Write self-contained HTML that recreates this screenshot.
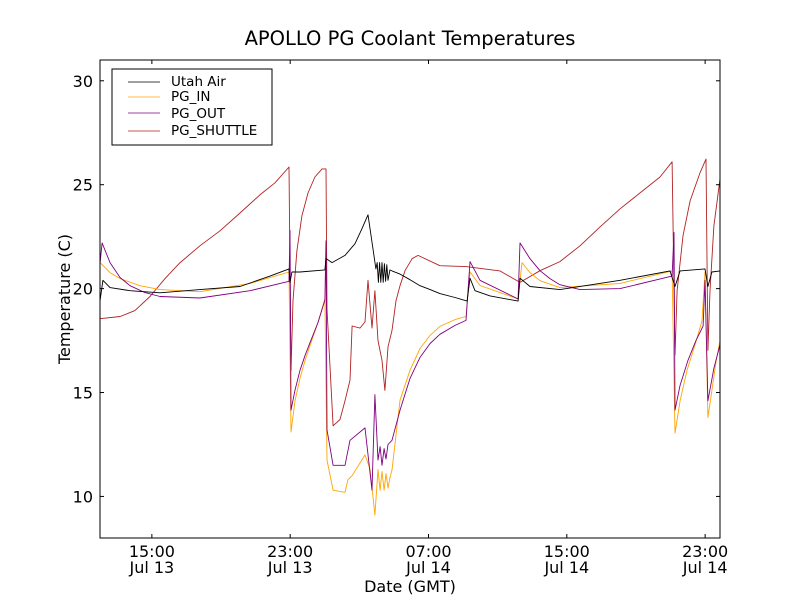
<!DOCTYPE html>
<html><head><meta charset="utf-8"><style>
body{margin:0;background:#fff;}
svg{display:block;font-family:"DejaVu Sans","Liberation Sans",sans-serif;}
</style></head><body>
<svg id="chart" width="800" height="600" viewBox="0 0 800 600">
<rect width="800" height="600" fill="#fff"/>
<text x="410" y="45" font-size="19.5" text-anchor="middle">APOLLO PG Coolant Temperatures</text>
<g id="series"></g>
<rect x="100" y="60" width="620" height="478" fill="none" stroke="#000" stroke-width="1"/>
<g id="axes"></g>
<text x="410" y="592" font-size="16" text-anchor="middle">Date (GMT)</text>
<text transform="translate(70,299) rotate(-90)" font-size="16" text-anchor="middle">Temperature (C)</text>
<g>
<rect x="112" y="69" width="160" height="76" fill="#fff" stroke="#000"/>
<line x1="128" y1="82" x2="160" y2="82" stroke="#000" stroke-width="0.8"/>
<text x="171" y="86" font-size="13.5">Utah Air</text>
<line x1="128" y1="97" x2="160" y2="97" stroke="#ffa500" stroke-width="0.8"/>
<text x="171" y="101" font-size="13.5">PG_IN</text>
<line x1="128" y1="113" x2="160" y2="113" stroke="#800080" stroke-width="0.8"/>
<text x="171" y="118" font-size="13.5">PG_OUT</text>
<line x1="128" y1="131" x2="160" y2="131" stroke="#b22222" stroke-width="0.8"/>
<text x="171" y="135" font-size="13.5">PG_SHUTTLE</text>
</g>
</svg>
<script>
// hours since Jul 13 12:00 GMT
const xTickHours=[3,11,19,27,35];
const xTickTimes=["15:00","23:00","07:00","15:00","23:00"];
const xTickDates=["Jul 13","Jul 13","Jul 14","Jul 14","Jul 14"];
const yTicks=[10,15,20,25,30];
const airT=[0,0.17,0.58,1.74,3.47,5.78,8.1,9.83,10.93,10.99,11.1,11.57,13.01,13.07,13.42,14.17,14.75,15.15,15.5,15.96,16.03,16.1,16.17,16.24,16.31,16.38,16.45,16.52,16.59,16.66,16.77,16.89,17.35,17.93,18.51,19.09,19.66,20.53,21.23,21.4,21.69,22.56,24.18,24.29,24.87,26.6,30.08,32.97,33.26,33.55,34.99,35.16,35.39,35.86];
const airV=[19.4,20.4,20.05,19.9,19.8,19.95,20.1,20.6,20.95,20.3,20.8,20.8,20.9,21.45,21.25,21.6,22.16,22.88,23.55,20.95,21.25,20.3,21.25,20.3,21.25,20.3,21.2,20.35,21.15,20.4,20.9,20.85,20.7,20.43,20.14,19.95,19.76,19.57,19.4,20.5,19.9,19.65,19.4,20.5,20.1,19.95,20.4,20.85,20.1,20.85,20.95,20.1,20.8,20.85];
const inT=[0,0.58,1.16,2.31,3.47,5.78,8.68,10.93,11.05,11.28,11.57,11.86,12.15,12.61,13.01,13.13,13.48,14.17,14.34,14.58,15.33,15.62,15.9,16.08,16.2,16.31,16.43,16.54,16.66,16.77,16.89,17.35,17.93,18.51,19.09,19.66,20.53,21.17,21.4,21.98,24.18,24.41,24.87,25.45,26.6,30.08,33.09,33.26,33.55,33.95,34.41,34.82,34.99,35.16,35.39,35.62,35.86];
const inV=[21.25,20.77,20.48,20.14,19.95,19.85,20.25,20.8,13.1,14.6,15.68,16.55,17.27,18.37,19.5,11.75,10.3,10.2,10.8,11.0,12.0,11.3,9.1,11.3,10.3,11.2,10.3,11.1,10.4,10.9,11.27,14.63,16.07,17.12,17.75,18.18,18.51,18.66,20.8,20.15,19.5,21.25,20.77,20.38,20.05,20.25,20.85,13.05,14.6,16.07,17.27,18.45,20.8,13.8,15.1,16.45,17.5];
const outT=[0,0.12,0.58,1.16,1.74,2.6,3.47,5.78,8.68,10.93,10.99,11.05,11.28,11.57,11.86,12.15,12.61,13.01,13.07,13.13,13.48,14.17,14.46,15.33,15.73,15.9,16.08,16.2,16.31,16.43,16.54,16.66,16.89,17.35,17.93,18.51,19.09,19.66,20.53,21.17,21.4,21.98,24.18,24.29,24.87,25.45,26.03,26.6,27.76,30.08,33.09,33.2,33.26,33.55,34.01,34.47,34.88,34.99,35.16,35.51,35.86];
const outV=[21.2,22.2,21.25,20.53,20.14,19.81,19.62,19.55,19.9,20.35,22.8,14.15,15.11,16.07,16.79,17.41,18.37,19.45,22.3,13.2,11.5,11.5,12.7,13.3,10.3,14.9,11.75,12.4,11.5,12.3,11.8,12.5,12.7,14.15,15.68,16.69,17.36,17.8,18.23,18.47,21.3,20.4,19.5,22.2,21.44,20.86,20.48,20.19,19.95,20.0,20.6,22.7,14.15,15.35,16.55,17.51,18.2,20.4,14.6,16.17,17.3];
const shT=[0,1.16,2.02,2.89,3.76,4.63,5.78,6.94,8.1,9.25,10.12,10.93,11.05,11.16,11.39,11.68,12.03,12.43,12.84,13.07,13.13,13.48,13.88,14.17,14.46,14.58,15.04,15.33,15.5,15.73,15.9,16.08,16.31,16.48,16.66,16.89,17.12,17.35,17.64,18.05,18.39,19.66,21.17,23.13,24.29,25.45,26.6,27.76,28.92,30.08,31.23,32.39,33.09,33.26,33.38,33.72,34.13,34.7,35.05,35.16,35.28,35.51,35.86];
const shV=[18.55,18.66,18.94,19.62,20.48,21.25,22.06,22.78,23.64,24.51,25.09,25.85,16.05,19.42,21.82,23.5,24.6,25.37,25.76,25.76,19.0,13.4,13.7,14.6,15.6,18.2,18.1,18.4,20.4,18.1,19.9,17.5,16.55,15.1,17.2,17.99,19.42,20.14,20.86,21.44,21.6,21.1,21.06,20.85,20.3,20.86,21.3,22.06,22.97,23.84,24.6,25.37,26.1,16.8,19.9,22.54,24.22,25.56,26.23,17.03,19.9,23.02,25.28];

const X0=100,X1=720,Y0=60,Y1=538,HMAX=35.86,VMIN=8,VMAX=31;
function xs(h){return X0+(h/HMAX)*(X1-X0);}
function ys(v){return Y1-(v-VMIN)/(VMAX-VMIN)*(Y1-Y0);}
const NS="http://www.w3.org/2000/svg";
const sg=document.getElementById('series');
function draw(T,V,color,name){
  const p=document.createElementNS(NS,'polyline');
  p.setAttribute('points',T.map((t,i)=>xs(t).toFixed(1)+','+ys(V[i]).toFixed(1)).join(' '));
  p.setAttribute('fill','none');p.setAttribute('stroke',color);p.setAttribute('stroke-width','0.9');
  p.setAttribute('stroke-linejoin','round');
  
  
  sg.appendChild(p);
}
draw(shT,shV,'#b22222','line-pg-shuttle');
draw(inT,inV,'#ffa500','line-pg-in');
draw(outT,outV,'#800080','line-pg-out');
draw(airT,airV,'#000','line-utah-air');
const ax=document.getElementById('axes');
function el(tag,attrs,txt){const e=document.createElementNS(NS,tag);for(const k in attrs)e.setAttribute(k,attrs[k]);if(txt!==undefined)e.textContent=txt;ax.appendChild(e);return e;}
xTickHours.forEach((h,i)=>{
  const x=xs(h);
  const t1=el('line',{x1:x,y1:Y1,x2:x,y2:Y1-4,stroke:'#000'});
  
  
  const t2=el('line',{x1:x,y1:Y0,x2:x,y2:Y0+4,stroke:'#000'});
  
  
  const a=el('text',{x:x,y:557,'font-size':16,'text-anchor':'middle'},xTickTimes[i]);
  
  
  const b=el('text',{x:x,y:573,'font-size':16,'text-anchor':'middle'},xTickDates[i]);
  
  
});
yTicks.forEach(v=>{
  const y=ys(v);
  const t1=el('line',{x1:X0,y1:y,x2:X0+4,y2:y,stroke:'#000'});
  
  
  const t2=el('line',{x1:X1,y1:y,x2:X1-4,y2:y,stroke:'#000'});
  
  
  const l=el('text',{x:93,y:y+6,'font-size':16,'text-anchor':'end'},String(v));
  
  
});
</script>
</body></html>
